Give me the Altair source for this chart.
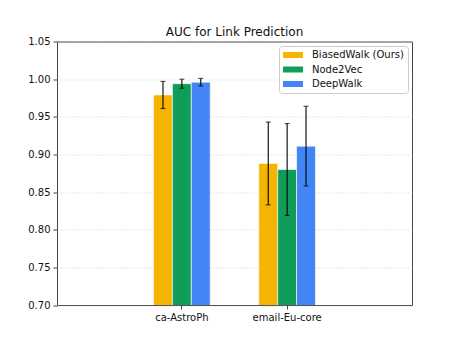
import altair as alt
import pandas as pd

datasets = ["ca-AstroPh", "email-Eu-core"]
methods = ["BiasedWalk (Ours)", "Node2Vec", "DeepWalk"]
colors = ["#F4B400", "#0F9D58", "#4285F4"]
auc = {
    "BiasedWalk (Ours)": [0.979, 0.888],
    "Node2Vec": [0.994, 0.880],
    "DeepWalk": [0.996, 0.911],
}
err = {
    "BiasedWalk (Ours)": [0.018, 0.055],
    "Node2Vec": [0.006, 0.061],
    "DeepWalk": [0.005, 0.053],
}
yticks = [0.70, 0.75, 0.80, 0.85, 0.90, 0.95, 1.00, 1.05]

rows = []
for m in methods:
    for i, d in enumerate(datasets):
        rows.append({"dataset": d, "method": m, "auc": auc[m][i], "err": err[m][i]})
df = pd.DataFrame(rows)

font = "DejaVu Sans"
xscale = alt.Scale(domain=datasets, paddingInner=0.462, paddingOuter=0.917)
yscale = alt.Scale(domain=[0.70, 1.05], zero=False, nice=False)
yaxis = alt.Axis(title=None, format=".2f", values=yticks, labelOverlap=False,
                 domain=False, grid=True, gridColor="#c8c8c8", gridDash=[1, 2],
                 gridWidth=0.8, tickColor="#444", tickSize=4, labelFontSize=10,
                 labelColor="#111", labelPadding=3, labelFlush=False)

base = alt.Chart(df).encode(
    x=alt.X("dataset:N", sort=datasets, scale=xscale,
            axis=alt.Axis(title=None, labelAngle=0, domain=False, grid=False,
                          tickColor="#444", tickSize=4, labelFontSize=10,
                          labelColor="#111", labelPadding=3)),
    xOffset=alt.XOffset("method:N", sort=methods, scale=alt.Scale(paddingInner=0, paddingOuter=0)),
)

bars = base.mark_bar(clip=True, stroke="white", strokeWidth=1, strokeOpacity=0.6).encode(
    y=alt.Y("auc:Q", scale=yscale, axis=yaxis),
    color=alt.Color("method:N", sort=methods,
                    scale=alt.Scale(domain=methods, range=colors),
                    legend=alt.Legend(title=None, orient="none", legendX=222, legendY=4.5,
                                      symbolType="M-1,-0.6L3,-0.6L3,0.6L-1,0.6Z",
                                      symbolSize=100, symbolStrokeWidth=0,
                                      labelFontSize=10, labelFont=font, labelColor="#111",
                                      fillColor="white", strokeColor="#cccccc",
                                      padding=4, cornerRadius=3, rowPadding=4.5,
                                      labelOffset=19)),
)

lines = base.transform_calculate(
    lo="datum.auc - datum.err", hi="datum.auc + datum.err"
).mark_rule(color="black", strokeWidth=1.1).encode(
    y=alt.Y("lo:Q", scale=yscale, axis=yaxis), y2="hi:Q"
)

caps_hi = base.transform_calculate(hi="datum.auc + datum.err").mark_tick(
    color="black", orient="horizontal", size=5, thickness=1.1
).encode(y=alt.Y("hi:Q", scale=yscale, axis=yaxis))
caps_lo = base.transform_calculate(lo="datum.auc - datum.err").mark_tick(
    color="black", orient="horizontal", size=5, thickness=1.1
).encode(y=alt.Y("lo:Q", scale=yscale, axis=yaxis))

chart = alt.layer(bars, lines, caps_hi, caps_lo).properties(
    width=355, height=263.5,
    title=alt.TitleParams("AUC for Link Prediction", fontSize=12, fontWeight="normal",
                          font=font, color="#111", offset=6, frame="group", dy=8),
    autosize=alt.AutoSizeParams(type="none"),
    padding={"left": 49, "top": 33.5, "right": 30, "bottom": 30},
).configure(font=font).configure_view(stroke="#444", strokeWidth=1).configure_axis(
    labelFont=font
)

chart.save("out.html", embed_options={"renderer": "svg", "actions": False})
